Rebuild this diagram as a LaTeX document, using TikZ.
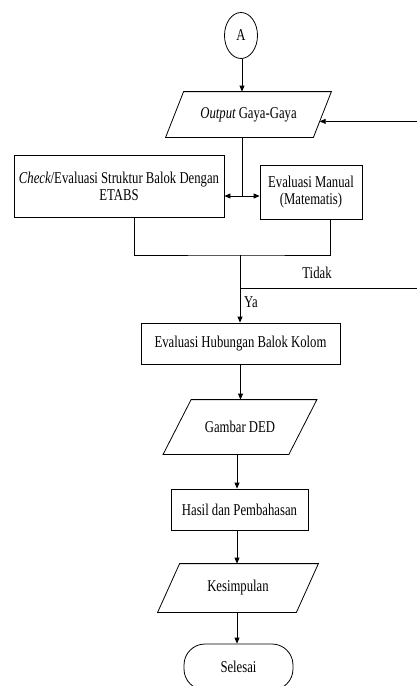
\documentclass[tikz,border=0pt]{standalone}
\usepackage{fontspec}
\setmainfont{Liberation Serif}[FakeStretch=0.77]
\usetikzlibrary{shapes.geometric,arrows.meta,calc}
\tikzset{
  base/.style={draw=black, line width=0.8pt, inner sep=0pt, align=center,
    font=\fontsize{16.5}{17}\selectfont},
  box/.style={base, rectangle},
  para/.style={base, rectangle, draw=none},
  term/.style={base, rectangle, rounded corners=21pt},
  conn/.style={ellipse, base},
  line/.style={draw=black, line width=0.8pt},
  arr/.style={line, -{Triangle[length=6pt,width=5pt]}},
  dbl/.style={line, {Triangle[length=6pt,width=5pt]}-{Triangle[length=6pt,width=5pt]}},
  lbl/.style={font=\fontsize{16.5}{17}\selectfont, inner sep=0pt}
}
\newcommand\drawpara[2]{%
  \draw[line] ($(#1.south west)+(-#2,0)$) coordinate (#1-bl)
    -- ($(#1.south east)+(-#2,0)$) coordinate (#1-br)
    -- ($(#1.north east)+(#2,0)$) coordinate (#1-tr)
    -- ($(#1.north west)+(#2,0)$) coordinate (#1-tl) -- cycle;}
\begin{document}
\begin{tikzpicture}[x=1pt,y=-1pt]
\useasboundingbox (0,0) rectangle (417,686);
\clip (0,0) rectangle (417,686);
\node[conn, minimum width=33pt, minimum height=46pt] (A) at (241,35.5) {A};
\node[para, minimum width=147pt, minimum height=45pt] (P1) at (248.5,114.5) {\itshape Output\upshape{} Gaya-Gaya};
\drawpara{P1}{9}
\node[box, minimum width=210pt, minimum height=62pt] (B1) at (119,186.5) {\itshape Check\upshape/Evaluasi Struktur Balok Dengan\\ETABS};
\node[box, minimum width=102pt, minimum height=54pt] (B2) at (311,192) {Evaluasi Manual\\(Matematis)};
\node[box, minimum width=199pt, minimum height=41pt] (B3) at (240.5,343.5) {Evaluasi Hubungan Balok Kolom};
\node[para, minimum width=125pt, minimum height=54pt] (P2) at (240,427) {Gambar DED};
\drawpara{P2}{14}
\node[box, minimum width=137pt, minimum height=41pt] (B4) at (239.5,509.5) {Hasil dan Pembahasan};
\node[para, minimum width=138pt, minimum height=48pt] (P3) at (238,588) {Kesimpulan};
\drawpara{P3}{11}
\node[term, minimum width=109pt, minimum height=46pt] (S) at (238.5,667) {Selesai};
\node[lbl] (tidak) at (317,273) {Tidak};
\node[lbl] (ya) at (251,302) {Ya};

\coordinate (j1) at (242,196);
\coordinate (m) at (240,255);
\coordinate (j2) at (240,288);
\coordinate (fb) at ($(P1-br)!0.35!(P1-tr)$);

\draw[arr] (A.south -| j1) -- (j1 |- P1.north);
\draw[line] (j1 |- P1.south) -- (j1);
\draw[dbl] (B1.east |- j1) -- (B2.west |- j1);
\draw[line] ($(B1.south)+(15,0)$) |- (m) -| ($(B2.south)+(19,0)$);
\draw[arr] (m) -- (m |- B3.north);
\draw[arr] (j2) -- (430,288) |- (fb);
\draw[arr] (B3.south) -- (B3.south |- P2.north);
\draw[arr] (P2.south -| 237,0) -- (237,0 |- B4.north);
\draw[arr] (B4.south -| 237,0) -- (237,0 |- P3.north);
\draw[arr] (P3.south -| 237,0) -- (237,0 |- S.north);
\end{tikzpicture}
\end{document}
